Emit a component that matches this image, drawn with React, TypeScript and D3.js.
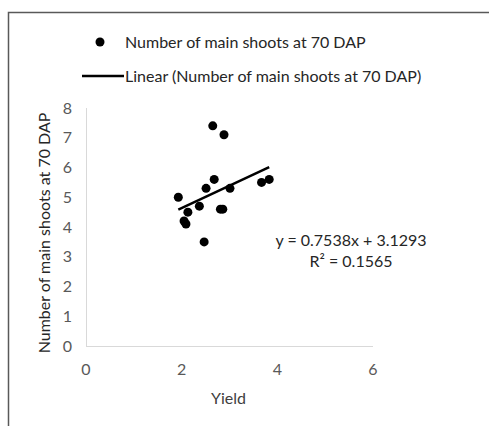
import * as d3 from 'd3';
import { useRef, useEffect } from 'react';

// Yield vs number of main shoots at 70 DAP
const yieldValues = [1.93, 2.65, 2.885, 2.68, 2.51, 3.01, 2.37, 2.13, 2.05, 2.09, 2.81, 2.86, 2.47, 3.67, 3.83];
const shootValues = [5.0, 7.4, 7.1, 5.6, 5.3, 5.3, 4.7, 4.5, 4.2, 4.1, 4.6, 4.6, 3.5, 5.5, 5.6];
const xTicks = [0, 2, 4, 6];
const yTicks = [0, 1, 2, 3, 4, 5, 6, 7, 8];
const slope = 0.7538;
const intercept = 3.1293;
const rSquared = 0.1565;
const seriesName = 'Number of main shoots at 70 DAP';

export default function App() {
    const ref = useRef<SVGSVGElement>(null);

    useEffect(() => {
        const width = 489;
        const height = 426;
        const font = 'Lato, "Open Sans", sans-serif';

        const svg = d3.select(ref.current)
            .attr('width', width)
            .attr('height', height);
        svg.selectAll('*').remove();

        svg.append('rect').attr('width', width).attr('height', height).attr('fill', 'white');

        // chart frame (only top and left visible in crop)
        svg.append('path')
            .attr('d', `M8.5,${height} V12.5 H${width}`)
            .attr('fill', 'none')
            .attr('stroke', '#595959')
            .attr('stroke-width', 1.5);

        const x = d3.scaleLinear().domain([0, 6]).range([86, 373]);
        const y = d3.scaleLinear().domain([0, 8]).range([346, 108]);

        // axes
        svg.append('line')
            .attr('x1', x(0)).attr('x2', x(6))
            .attr('y1', y(0) + 0.5).attr('y2', y(0) + 0.5)
            .attr('stroke', '#d9d9d9');
        svg.append('line')
            .attr('x1', x(0) + 0.5).attr('x2', x(0) + 0.5)
            .attr('y1', y(0)).attr('y2', y(8))
            .attr('stroke', '#d9d9d9');

        svg.selectAll('text.xtick')
            .data(xTicks)
            .enter()
            .append('text')
            .attr('class', 'xtick')
            .attr('x', d => x(d))
            .attr('y', 375)
            .attr('text-anchor', 'middle')
            .attr('fill', '#595959')
            .style('font-family', font)
            .style('font-size', '16px')
            .text(d => d);

        svg.selectAll('text.ytick')
            .data(yTicks)
            .enter()
            .append('text')
            .attr('class', 'ytick')
            .attr('x', 72)
            .attr('y', d => y(d))
            .attr('dy', '0.35em')
            .attr('text-anchor', 'end')
            .attr('fill', '#595959')
            .style('font-family', font)
            .style('font-size', '16px')
            .text(d => d);

        // axis titles
        svg.append('text')
            .attr('x', x(3) - 1)
            .attr('y', 404)
            .attr('text-anchor', 'middle')
            .attr('fill', '#404040')
            .style('font-family', font)
            .style('font-size', '16px')
            .text('Yield');

        svg.append('text')
            .attr('transform', `translate(50, 233) rotate(-90)`)
            .attr('text-anchor', 'middle')
            .attr('fill', '#262626')
            .style('font-family', font)
            .style('font-size', '16px')
            .text(seriesName);

        // trendline
        const xExtent = d3.extent(yieldValues) as [number, number];
        const line = d3.line<number>()
            .x(d => x(d))
            .y(d => y(slope * d + intercept));
        svg.append('path')
            .attr('d', line(xExtent))
            .attr('fill', 'none')
            .attr('stroke', 'black')
            .attr('stroke-width', 2.5);

        // points
        svg.selectAll('circle.pt')
            .data(yieldValues)
            .enter()
            .append('circle')
            .attr('class', 'pt')
            .attr('cx', d => x(d))
            .attr('cy', (d, i) => y(shootValues[i]))
            .attr('r', 4.5)
            .attr('fill', 'black');

        // equation
        svg.append('text')
            .attr('x', 351)
            .attr('y', 246)
            .attr('text-anchor', 'middle')
            .attr('fill', '#262626')
            .style('font-family', font)
            .style('font-size', '16px')
            .text(`y = ${slope}x + ${intercept}`);
        svg.append('text')
            .attr('x', 351)
            .attr('y', 267)
            .attr('text-anchor', 'middle')
            .attr('fill', '#262626')
            .style('font-family', font)
            .style('font-size', '16px')
            .text(`R² = ${rSquared}`);

        // legend
        const legend = svg.append('g');
        legend.append('circle')
            .attr('cx', 100)
            .attr('cy', 42)
            .attr('r', 4.5)
            .attr('fill', 'black');
        legend.append('text')
            .attr('x', 125)
            .attr('y', 42)
            .attr('dy', '0.35em')
            .attr('fill', '#262626')
            .style('font-family', font)
            .style('font-size', '16px')
            .text(seriesName);
        legend.append('line')
            .attr('x1', 82).attr('x2', 124)
            .attr('y1', 76).attr('y2', 76)
            .attr('stroke', 'black')
            .attr('stroke-width', 2.5);
        legend.append('text')
            .attr('x', 125)
            .attr('y', 76)
            .attr('dy', '0.35em')
            .attr('fill', '#262626')
            .style('font-family', font)
            .style('font-size', '16px')
            .text(`Linear (${seriesName})`);
    }, []);

    return (
        <svg ref={ref} style={{ position: 'absolute', left: 0, top: 0 }}></svg>
    );
}
